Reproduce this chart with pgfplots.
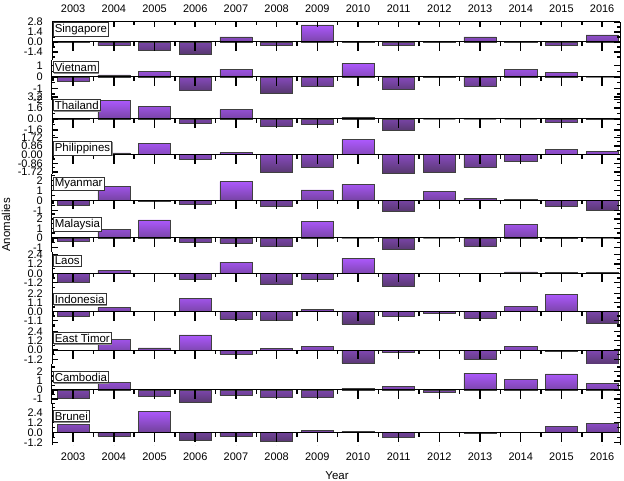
\documentclass[border=0pt]{standalone}
\usepackage{fontspec}
\setmainfont{Liberation Sans}
\usepackage{pgfplots}
\pgfplotsset{compat=1.18}
\usetikzlibrary{shadows}

\definecolor{barTop}{RGB}{172,88,252}
\definecolor{barMid}{RGB}{150,74,226}
\definecolor{barBot}{RGB}{88,56,112}

\tikzset{tk/.style={black, line width=1.5bp}}

% years are plotted at 0..13 (2003..2016)
\pgfplotsset{
  panel/.style={
    anchor=south west, scale only axis, width=568bp,
    xmin=-0.52, xmax=13.44,
    axis x line=none, axis y line=box,
    y axis line style={line width=1bp},
    tick align=inside, major tick length=0.01pt, minor tick length=0.01pt,
    yticklabel style={font=\fontsize{11}{13}\selectfont, inner sep=0pt, xshift=-9bp},
    ybar, bar width=0.79, bar shift=0pt,
  },
  bars/.style={draw=black!75, line width=0.5bp, top color=barTop, middle color=barMid, bottom color=barBot},
}

% zero line with year ticks, and inward ticks on both side lines
% #1 major y values, #2 minor y values, #3/#4 major/minor year tick length in y units
\newcommand{\decor}[4]{%
  \draw[tk, line width=1bp] (axis cs:-0.52,0) -- (axis cs:13.44,0);
  \pgfplotsinvokeforeach{0,1,...,13}{\draw[tk] (axis cs:##1,0) -- (axis cs:##1,-#3);}
  \pgfplotsinvokeforeach{-0.5,0.5,1.5,2.5,3.5,4.5,5.5,6.5,7.5,8.5,9.5,10.5,11.5,12.5}{%
    \draw[tk] (axis cs:##1,0) -- (axis cs:##1,-#4);}
  \pgfplotsinvokeforeach{#1}{\draw[tk] (axis cs:-0.52,##1) -- (axis cs:-0.3725,##1);
    \draw[tk] (axis cs:13.44,##1) -- (axis cs:13.2925,##1);}
  \pgfplotsinvokeforeach{#2}{\draw[tk] (axis cs:-0.52,##1) -- (axis cs:-0.4463,##1);
    \draw[tk] (axis cs:13.44,##1) -- (axis cs:13.3663,##1);}
}

\begin{document}
\begin{tikzpicture}
\path[use as bounding box] (0,0) rectangle (624bp,481bp);

% Singapore
\begin{axis}[panel, at={(52bp,421bp)}, height=38bp, ymin=-2.521, ymax=2.801,
  ytick={-1.4,0,1.4,2.8}, yticklabels={-1.4,0.0,1.4,2.8}]
\addplot[bars] coordinates {(0,-0.1) (1,-0.5) (2,-1.1) (3,-1.65) (4,0.7) (5,-0.5) (6,2.4)
  (7,0.05) (8,-0.5) (9,0.05) (10,0.7) (11,0.05) (12,-0.5) (13,1.0)};
\decor{-1.4,0,1.4,2.8}{-2.1,-0.7,0.7,2.1}{1.26}{0.56}
\end{axis}

% Vietnam
\begin{axis}[panel, at={(52bp,381bp)}, height=40bp, ymin=-2.035, ymax=1.504,
  ytick={-2,-1,0,1}, yticklabels={-2,-1,0,1}]
\addplot[bars] coordinates {(0,-0.35) (1,0.18) (2,0.5) (3,-1.18) (4,0.7) (5,-1.4) (6,-0.85)
  (7,1.2) (8,-1.1) (9,-0.05) (10,-0.8) (11,0.68) (12,0.41) (13,0)};
\decor{-2,-1,0,1}{-1.5,-0.5,0.5}{0.8}{0.354}
\end{axis}

% Thailand
\begin{axis}[panel, at={(52bp,344bp)}, height=40.2bp, ymin=-2.618, ymax=3.229,
  ytick={-1.6,0,1.6,3.2}, yticklabels={-1.6,0.0,1.6,3.2}]
\addplot[bars] coordinates {(0,0.1) (1,2.75) (2,1.85) (3,-0.65) (4,1.35) (5,-1.0) (6,-0.7)
  (7,0.2) (8,-1.7) (9,0) (10,0) (11,0) (12,-0.5) (13,-0.1)};
\decor{-1.6,0,1.6,3.2}{-2.4,-0.8,0.8,2.4}{1.31}{0.58}
\end{axis}

% Philippines
\begin{axis}[panel, at={(52bp,307bp)}, height=37bp, ymin=-1.917, ymax=1.758,
  ytick={-1.72,-0.86,0,0.86,1.72}, yticklabels={-1.72,-0.86,0.00,0.86,1.72}]
\addplot[bars] coordinates {(0,0.05) (1,0.17) (2,1.09) (3,-0.46) (4,0.23) (5,-1.75) (6,-1.29)
  (7,1.49) (8,-1.82) (9,-1.79) (10,-1.29) (11,-0.66) (12,0.5) (13,0.36)};
\decor{-1.72,-0.86,0,0.86,1.72}{-1.29,-0.43,0.43,1.29}{0.894}{0.397}
\end{axis}

% Myanmar
\begin{axis}[panel, at={(52bp,267bp)}, height=40bp, ymin=-1.37, ymax=2.63,
  ytick={-1,0,1,2}, yticklabels={-1,0,1,2}]
\addplot[bars] coordinates {(0,-0.53) (1,1.4) (2,-0.1) (3,-0.4) (4,1.87) (5,-0.63) (6,1.03)
  (7,1.6) (8,-1.07) (9,0.9) (10,0.2) (11,0.07) (12,-0.6) (13,-1.0)};
\decor{-1,0,1,2}{-0.5,0.5,1.5,2.5}{0.9}{0.4}
\end{axis}

% Malaysia
\begin{axis}[panel, at={(52bp,229bp)}, height=38bp, ymin=-1.474, ymax=2.526,
  ytick={-1,0,1,2}, yticklabels={-1,0,1,2}]
\addplot[bars] coordinates {(0,-0.35) (1,0.91) (2,1.9) (3,-0.45) (4,-0.56) (5,-0.91) (6,1.75)
  (7,0) (8,-1.23) (9,0) (10,-0.84) (11,1.47) (12,0.05) (13,0)};
\decor{-1,0,1,2}{-0.5,0.5,1.5,2.5}{0.947}{0.421}
\end{axis}

% Laos
\begin{axis}[panel, at={(52bp,192bp)}, height=37bp, ymin=-2.018, ymax=2.738,
  ytick={-1.2,0,1.2,2.4}, yticklabels={-1.2,0.0,1.2,2.4}]
\addplot[bars] coordinates {(0,-1.1) (1,0.39) (2,0) (3,-0.8) (4,1.42) (5,-1.46) (6,-0.77)
  (7,1.93) (8,-1.7) (9,0) (10,0) (11,0.17) (12,0.13) (13,0.13)};
\decor{-1.2,0,1.2,2.4}{-1.8,-0.6,0.6,1.8}{1.157}{0.514}
\end{axis}

% Indonesia
\begin{axis}[panel, at={(52bp,155bp)}, height=37bp, ymin=-1.75, ymax=2.778,
  ytick={-1.1,0,1.1,2.2}, yticklabels={-1.1,0.0,1.1,2.2}]
\addplot[bars] coordinates {(0,-0.53) (1,0.49) (2,0) (3,1.59) (4,-0.94) (5,-1.02) (6,0.33)
  (7,-1.5) (8,-0.57) (9,-0.2) (10,-0.78) (11,0.65) (12,2.16) (13,-1.43)};
\decor{-1.1,0,1.1,2.2}{-1.65,-0.55,0.55,1.65}{1.1}{0.49}
\end{axis}

% East Timor
\begin{axis}[panel, at={(52bp,117bp)}, height=38bp, ymin=-1.799, ymax=3.085,
  ytick={-1.2,0,1.2,2.4}, yticklabels={-1.2,0.0,1.2,2.4}]
\addplot[bars] coordinates {(0,0) (1,1.4) (2,0.26) (3,1.93) (4,-0.5) (5,0.17) (6,0.47)
  (7,-1.7) (8,-0.3) (9,0) (10,-1.25) (11,0.5) (12,-0.15) (13,-1.8)};
\decor{-1.2,0,1.2,2.4}{-0.6,0.6,1.8,3.0}{1.157}{0.514}
\end{axis}

% Cambodia
\begin{axis}[panel, at={(52bp,77bp)}, height=40bp, ymin=-1.527, ymax=2.835,
  ytick={-1,0,1,2}, yticklabels={-1,0,1,2}]
\addplot[bars] coordinates {(0,-0.9) (1,0.87) (2,-0.7) (3,-1.38) (4,-0.6) (5,-0.8) (6,-0.78)
  (7,0.18) (8,0.36) (9,-0.25) (10,1.85) (11,1.13) (12,1.75) (13,0.73)};
\decor{-1,0,1,2}{-1.5,-0.5,0.5,1.5,2.5}{0.98}{0.436}
\end{axis}

% Brunei
\begin{axis}[panel, at={(52bp,36bp)}, height=41bp, ymin=-1.477, ymax=3.445,
  ytick={-1.2,0,1.2,2.4}, yticklabels={-1.2,0.0,1.2,2.4}]
\addplot[bars] coordinates {(0,1.0) (1,-0.4) (2,2.56) (3,-0.92) (4,-0.44) (5,-1.04) (6,0.28)
  (7,0.16) (8,-0.52) (9,0) (10,-0.05) (11,0) (12,0.76) (13,1.12)};
\decor{-1.2,0,1.2,2.4}{-0.6,0.6,1.8,3.0}{1.08}{0.48}
\end{axis}

% top frame line with year labels above
\begin{axis}[anchor=south west, at={(52bp,36bp)}, scale only axis, width=568bp, height=423bp,
  xmin=-0.52, xmax=13.44, ymin=0, ymax=1,
  axis x line=top, axis y line=none, x axis line style={-, line width=1bp},
  xtick={0,...,13}, major tick length=0.01pt,
  xticklabels={2003,2004,2005,2006,2007,2008,2009,2010,2011,2012,2013,2014,2015,2016},
  xticklabel style={font=\fontsize{11}{13}\selectfont, yshift=6bp}]
\pgfplotsinvokeforeach{0,1,...,13}{\draw[tk] (axis cs:#1,1) -- (axis cs:#1,0.9882);}
\pgfplotsinvokeforeach{0.5,1.5,2.5,3.5,4.5,5.5,6.5,7.5,8.5,9.5,10.5,11.5,12.5}{%
  \draw[tk] (axis cs:#1,1) -- (axis cs:#1,0.9929);}
\end{axis}

% bottom year labels
\begin{axis}[anchor=south west, at={(52bp,36bp)}, scale only axis, width=568bp, height=423bp,
  xmin=-0.52, xmax=13.44, ymin=0, ymax=1,
  axis x line=bottom, axis y line=none, x axis line style={draw=none, -},
  xtick={0,...,13}, major tick length=0.01pt,
  xticklabels={2003,2004,2005,2006,2007,2008,2009,2010,2011,2012,2013,2014,2015,2016},
  xticklabel style={font=\fontsize{11}{13}\selectfont, yshift=-4bp}]
\end{axis}

\begin{scope}[every node/.style={anchor=north west, fill=white, draw=black!80, line width=0.6bp,
    inner sep=1.5bp, font=\fontsize{11.5}{13}\selectfont,
    drop shadow={shadow xshift=0.9bp, shadow yshift=-0.9bp, fill=black!45, opacity=1}}]
\node at (53bp,459bp) {Singapore};
\node at (53bp,420bp) {Vietnam};
\node at (53bp,382bp) {Thailand};
\node at (53bp,340bp) {Philippines};
\node at (53bp,304bp) {Myanmar};
\node at (53bp,264bp) {Malaysia};
\node at (53bp,226bp) {Laos};
\node at (53bp,188bp) {Indonesia};
\node at (53bp,149bp) {East Timor};
\node at (53bp,110bp) {Cambodia};
\node at (53bp,71bp) {Brunei};
\end{scope}

\node[font=\fontsize{11.5}{13}\selectfont] at (337bp,5bp) {Year};
\node[rotate=90, font=\fontsize{11.5}{13}\selectfont] at (6bp,256bp) {Anomalies};
\end{tikzpicture}
\end{document}
